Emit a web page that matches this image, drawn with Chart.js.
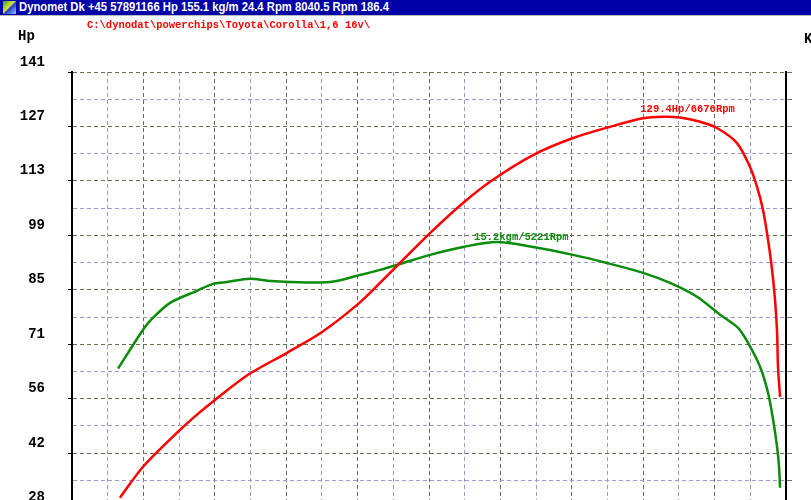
<!DOCTYPE html>
<html>
<head>
<meta charset="utf-8">
<script src="https://cdn.jsdelivr.net/npm/chart.js@4.4.1/dist/chart.umd.min.js"></script>
<style>
html,body{margin:0;padding:0;width:811px;height:500px;overflow:hidden;background:#fff;}
#wrap{position:relative;width:811px;height:500px;overflow:hidden;}
#cv{position:absolute;left:0;top:0;}
#bar{position:absolute;left:0;top:0;width:811px;height:15px;background:#0000a8;border-bottom:1px solid #b8b8b8;}
#icon{position:absolute;left:3px;top:1px;width:13px;height:13px;background:linear-gradient(135deg,#30a030 0%,#e0e040 45%,#2040c0 55%,#a0c0ff 100%);}
.fit{position:absolute;white-space:nowrap;transform-origin:0 50%;}
#ttl{left:19px;top:0px;line-height:15px;color:#fff;font:bold 12px "Liberation Sans",Arial,sans-serif;}
#path{left:87px;top:20px;line-height:12px;color:#ff0000;font:bold 10px "Liberation Mono",monospace;}
.ax{position:absolute;white-space:nowrap;font:bold 14px "Liberation Mono",monospace;color:#000;line-height:16px;}
#hp{left:18px;top:28px;}
#kg{left:804px;top:31px;}
</style>
</head>
<body>
<div id="wrap">
<canvas id="cv" width="860" height="655" style="width:860px;height:655px;"></canvas>
<div id="bar"><div id="icon"></div><div id="ttl" class="fit" data-w="370">Dynomet Dk +45 57891166 Hp 155.1 kg/m 24.4 Rpm 8040.5 Rpm 186.4</div></div>
<div id="path" class="fit" data-w="283">C:\dynodat\powerchips\Toyota\Corolla\1,6 16v\</div>
<div id="hp" class="ax">Hp</div>
<div id="kg" class="ax">Kgm</div>
</div>
<script>
// ---- data ----
const rpmPower = [1920,2122,2419,2594,2752,3041,3382,3689,3995,4196,4371,4634,4923,5185,5536,5886,6210,6499,6676,6822,6998,7146,7321,7435,7497,7549,7593,7628,7654,7672,7680,7698];
const hpPower  = [30.8,38.8,47.6,52.3,56.1,62.6,68.3,73.7,80.7,86.4,91.6,99.3,107.1,113.1,119.5,123.9,126.8,129.0,129.4,129.2,128.1,126.5,122.6,116.4,111.2,105.3,97.5,89.8,82.0,73.5,64.7,56.9];
const rpmTorque = [1903,2008,2122,2183,2358,2594,2734,2857,3058,3207,3408,3759,3995,4196,4371,4634,4923,5221,5536,5886,6183,6499,6735,6971,7173,7330,7418,7523,7593,7637,7672,7689,7698];
const kgmTorque = [10.06,10.83,11.64,12.00,12.73,13.22,13.50,13.58,13.71,13.63,13.58,13.58,13.83,14.07,14.31,14.68,15.00,15.2,15.00,14.68,14.35,13.95,13.54,12.98,12.25,11.72,11.11,10.14,9.08,7.99,6.89,6.08,5.23];
const hpTickLabels  = ['0','14','28','42','56','71','85','99','113','127','141'];
const kgmTickLabels = ['0','2.2','4.4','6.6','8.8','11.1','13.3','15.5','17.7','19.9','22.1'];
const rpmMin = 1500, rpmMax = 7750;
const hpMax = 141, kgmMax = 22.1;
const peakPower  = {rpm: 6676, value: 129.4, text: '129.4Hp/6676Rpm'};
const peakTorque = {rpm: 5221, value: 15.2,  text: '15.2kgm/5221Rpm'};
const divisions = 20;

// fit header texts to measured widths
document.querySelectorAll('.fit').forEach(el => {
  const w = +el.dataset.w; const cur = el.scrollWidth;
  if (cur > 0) el.style.transform = 'scaleX(' + (w / cur) + ')';
});

const gridDark = '#6c6c58', gridLav = '#9a9ad2';
const gridColor = ctx => (ctx.index % 2 === 0 ? gridDark : gridLav);
const evenTicks = (min, max) => scale => {
  scale.ticks = Array.from({length: divisions + 1}, (_, i) => ({value: min + i * (max - min) / divisions}));
};

const peakLabels = {
  id: 'peakLabels',
  afterDatasetsDraw(chart) {
    const {ctx, scales} = chart;
    ctx.save();
    ctx.font = 'bold 10.5px "Liberation Mono", monospace';
    ctx.textAlign = 'left';
    ctx.textBaseline = 'middle';
    [[peakPower, 'y', '#ff0000', 7], [peakTorque, 'y1', '#0c8c0c', 5]].forEach(([p, ax, col, dy]) => {
      ctx.fillStyle = col;
      const x = scales.x.getPixelForValue(p.rpm) - 23;
      const y = scales[ax].getPixelForValue(p.value) - dy;
      ctx.fillText(p.text, x, y);
    });
    ctx.restore();
  }
};

new Chart(document.getElementById('cv'), {
  type: 'line',
  data: {
    datasets: [
      {data: rpmPower.map((r, i) => ({x: r, y: hpPower[i]})), yAxisID: 'y', borderColor: '#ff0000', borderWidth: 2.5, pointRadius: 0, tension: 0.3, fill: false},
      {data: rpmTorque.map((r, i) => ({x: r, y: kgmTorque[i]})), yAxisID: 'y1', borderColor: '#0c8c0c', borderWidth: 2.5, pointRadius: 0, tension: 0.3, fill: false}
    ]
  },
  options: {
    responsive: false,
    animation: false,
    devicePixelRatio: 1,
    layout: {padding: {top: 72, left: 0, right: 0, bottom: 0}},
    plugins: {legend: {display: false}, tooltip: {enabled: false}},
    scales: {
      x: {
        type: 'linear', min: rpmMin, max: rpmMax,
        afterBuildTicks: evenTicks(rpmMin, rpmMax),
        afterFit: s => { s.height = 23; },
        ticks: {display: false},
        grid: {color: gridColor, lineWidth: 1, drawTicks: false},
        border: {display: false, dash: [4, 3]}
      },
      y: {
        position: 'left', min: 0, max: hpMax,
        afterBuildTicks: evenTicks(0, hpMax),
        afterFit: s => { s.width = 72; },
        ticks: {
          autoSkip: false, color: '#000', padding: 23, labelOffset: -10,
          font: {family: 'Liberation Mono', weight: 'bold', size: 14},
          callback: (v, i) => (i % 2 === 0 ? hpTickLabels[i / 2] : '')
        },
        grid: {color: gridColor, lineWidth: 1, drawTicks: true, tickLength: 4,
               tickColor: ctx => (ctx.index % 2 === 0 ? '#000' : 'rgba(0,0,0,0)')},
        border: {display: true, color: '#000', width: 2, dash: [4, 3]}
      },
      y1: {
        position: 'right', min: 0, max: kgmMax,
        afterBuildTicks: evenTicks(0, kgmMax),
        afterFit: s => { s.width = 74; },
        ticks: {
          autoSkip: false, color: '#000', padding: 30, labelOffset: -10,
          font: {family: 'Liberation Mono', weight: 'bold', size: 14},
          callback: (v, i) => (i % 2 === 0 ? kgmTickLabels[i / 2] : '')
        },
        grid: {drawOnChartArea: false, drawTicks: true, tickLength: 6, tickColor: '#707070'},
        border: {display: true, color: '#000', width: 2}
      }
    }
  },
  plugins: [peakLabels]
});
</script>
</body>
</html>
